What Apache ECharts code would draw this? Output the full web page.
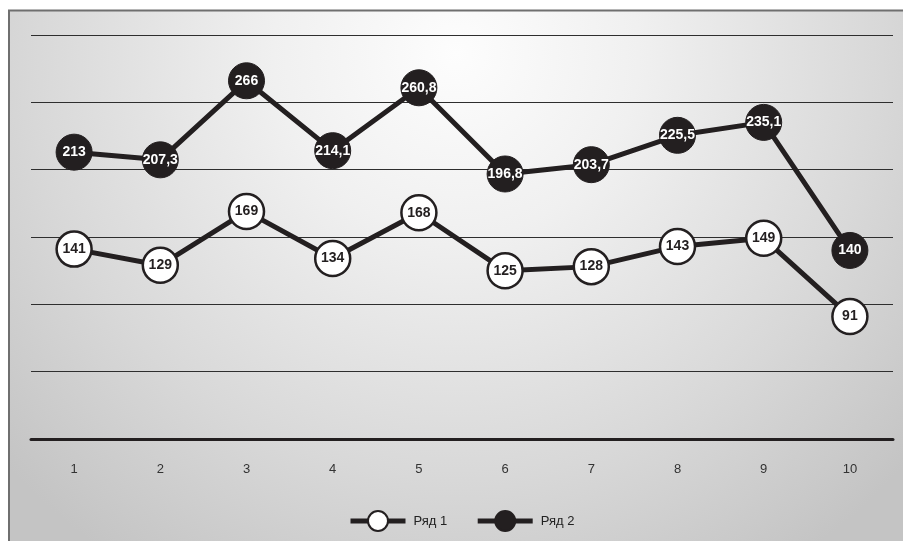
<!DOCTYPE html>
<html>
<head>
<meta charset="utf-8">
<script src="https://cdn.jsdelivr.net/npm/echarts@6/dist/echarts.min.js"></script>
<style>
  html, body { margin: 0; padding: 0; background: #fff; }
  #chart { width: 903px; height: 541px; }
</style>
</head>
<body>
<div id="chart"></div>
<script>
// Categories and series values
var categories = ['1', '2', '3', '4', '5', '6', '7', '8', '9', '10'];
var row1 = [141, 129, 169, 134, 168, 125, 128, 143, 149, 91];
var row2 = [213, 207.3, 266, 214.1, 260.8, 196.8, 203.7, 225.5, 235.1, 140];
var seriesNames = ['Ряд 1', 'Ряд 2'];

var ink = '#231f20';
var fontFamily = '"Liberation Sans", Arial, sans-serif';

function commaLabel(p) {
  return String(p.value).replace('.', ',');
}

var chart = echarts.init(document.getElementById('chart'), null, { renderer: 'canvas' });

chart.setOption({
  backgroundColor: '#ffffff',
  animation: false,
  graphic: [
    {
      type: 'rect',
      z: -10,
      silent: true,
      shape: { x: 9, y: 11, width: 894, height: 530 },
      style: {
        fill: {
          type: 'radial', x: 0.5, y: 0.08, r: 1.15,
          colorStops: [
            { offset: 0, color: '#fdfdfd' },
            { offset: 0.3, color: '#f0f0f0' },
            { offset: 0.7, color: '#d8d8d8' },
            { offset: 1, color: '#c4c4c4' }
          ]
        }
      }
    },
    {
      type: 'polyline',
      z: -9,
      silent: true,
      shape: { points: [[9, 541], [9, 10.5], [903, 10.5]] },
      style: { stroke: '#6f6f6f', lineWidth: 2, fill: null }
    }
  ],
  grid: { left: 31, right: 10, top: 35, height: 404, containLabel: false },
  legend: {
    bottom: 4,
    left: 343,
    itemWidth: 55,
    itemHeight: 25,
    itemGap: 28,
    lineStyle: { width: 5 },
    textStyle: { fontFamily: fontFamily, fontSize: 13, color: '#222', padding: [0, 0, 0, 3] },
    data: seriesNames
  },
  xAxis: {
    type: 'category',
    data: categories,
    boundaryGap: true,
    axisLine: { show: true, lineStyle: { color: ink, width: 3 } },
    axisTick: { show: false },
    axisLabel: { margin: 24, fontFamily: fontFamily, fontSize: 13, color: '#333' },
    z: 5
  },
  yAxis: {
    type: 'value',
    min: 0,
    max: 300,
    interval: 50,
    axisLine: { show: false },
    axisTick: { show: false },
    axisLabel: { show: false },
    splitLine: { lineStyle: { color: '#2e2e2e', width: 1 } }
  },
  series: [
    {
      name: seriesNames[0],
      type: 'line',
      data: row1,
      symbol: 'circle',
      symbolSize: 35,
      lineStyle: { color: ink, width: 5 },
      itemStyle: { color: '#ffffff', borderColor: ink, borderWidth: 2.5 },
      label: {
        show: true, position: 'inside', formatter: commaLabel,
        fontFamily: fontFamily, fontSize: 14, fontWeight: 'bold', color: ink
      },
      z: 3
    },
    {
      name: seriesNames[1],
      type: 'line',
      data: row2,
      symbol: 'circle',
      symbolSize: 36,
      lineStyle: { color: ink, width: 5 },
      itemStyle: { color: ink, borderColor: ink, borderWidth: 1 },
      label: {
        show: true, position: 'inside', formatter: commaLabel,
        fontFamily: fontFamily, fontSize: 14, fontWeight: 'bold', color: '#ffffff'
      },
      z: 4
    }
  ]
});
</script>
</body>
</html>
